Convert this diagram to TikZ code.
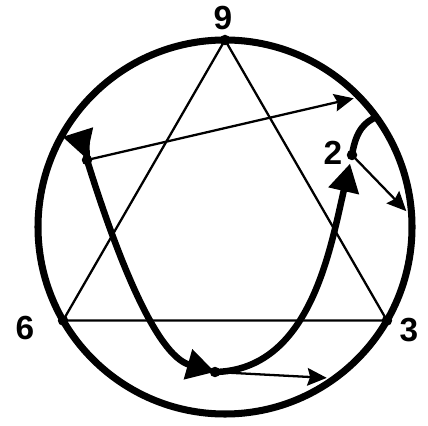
\documentclass[tikz,border=0pt]{standalone}
\usepackage{fontspec}
\setmainfont{Liberation Sans}
\usetikzlibrary{arrows.meta,calc}

\tikzset{
  knot/.style={circle, fill=black, inner sep=0pt, minimum size=0.21cm},
  chord/.style={line width=1.3pt},
  track/.style={line width=3.7pt},
  bigtip/.style={-{Triangle[length=16pt,width=17pt]}},
  digit/.style={font=\fontsize{19}{21}\selectfont\bfseries},
}

\begin{document}
\begin{tikzpicture}[x=0.02cm, y=0.02cm, >={Stealth[length=11pt,width=10pt,inset=1.5pt]}]
    \useasboundingbox (0,0) rectangle (428,425);

    % Kreis
    \coordinate (O) at (225,198);
    \draw[line width=4pt] (O) circle[radius=187];

    % Punkte auf dem Kreis
    \coordinate (p9) at ($(O)+(90:187)$);
    \coordinate (p6) at ($(O)+(210:187)$);
    \coordinate (p3) at ($(O)+(-30:187)$);

    % innere Punkte
    \coordinate (pL) at (87,265);
    \coordinate (p2) at (352,270);
    \coordinate (pB) at (215,53);

    % Endpunkte am Kreis
    \coordinate (aL) at ($(O)+(151:186)$);
    \coordinate (aT) at ($(O)+(36:187)$);
    \coordinate (aO) at ($(O)+(45:182)$);
    \coordinate (aR) at ($(O)+(5:182)$);
    \coordinate (aU) at ($(O)+(-56:182)$);

    % Dreieck 9-6-3
    \draw[chord] (p9) -- (p6) -- (p3) -- cycle;

    % duenne Pfeile
    \draw[chord, ->] (pL) -- (aO);
    \draw[chord, ->] (p2) -- (aR);
    \draw[chord, ->] (pB) -- (aU);

    % dicke Kurve
    \draw[track, bigtip] (pL) .. controls (86,283) .. (aL);
    \draw[track, bigtip] (pL) .. controls (115,175) and (155,70) .. (pB);
    \draw[track, bigtip, shorten >=5pt] (pB) .. controls (310,55) and (330,175) .. (p2);
    \draw[track] (p2) .. controls (356,295) and (365,303) .. (aT);

    % Punkte
    \foreach \p in {p9,p6,p3,pL,p2,pB}
        \node[knot] (k\p) at (\p) {};

    % Beschriftung
    \node[digit] (l9) at (223,407) {9};
    \node[digit] (l6) at (25,97) {6};
    \node[digit] (l3) at (409,95) {3};
    \node[digit] (l2) at (333,272) {2};

\end{tikzpicture}
\end{document}
